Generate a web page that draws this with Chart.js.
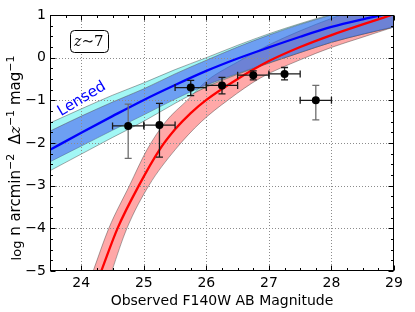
<!DOCTYPE html>
<html><head><meta charset="utf-8">
<script src="https://cdn.jsdelivr.net/npm/chart.js@4.4.0/dist/chart.umd.min.js"></script>
<style>html,body{margin:0;padding:0;background:#fff;}#wrap{width:415px;height:312px;}</style>
</head><body><div id="wrap"><canvas id="c" width="415" height="312"></canvas></div>
<script>
// ---- data ----
const magGrid        = [23.5, 24, 24.5, 25, 25.5, 26, 26.5, 27, 27.5, 28, 28.5, 29];
const lensedMid      = [-2.16,-1.76,-1.37,-0.99,-0.64,-0.31,-0.02,0.24,0.49,0.72,0.90,1.06];
const lensedHi       = [-1.72,-1.37,-1.04,-0.73,-0.38,-0.06,0.25,0.53,0.78,1.00,1.20,1.38];
const lensedLo       = [-2.44,-2.07,-1.70,-1.34,-0.97,-0.64,-0.37,-0.12,0.12,0.36,0.55,0.72];
const lensedOuterHi  = [-1.53,-1.20,-0.88,-0.59,-0.28,0.00,0.29,0.56,0.80,1.02,1.21,1.39];
const lensedOuterLo  = [-2.65,-2.26,-1.87,-1.49,-1.07,-0.69,-0.39,-0.13,0.12,0.36,0.55,0.72];

const intrinsicMag   = [24.32,24.58,24.92,25.25,25.5,25.75,26,26.5,27,27.5,28,28.5,29];
const intrinsicMid   = [-5,-4,-3,-2.16,-1.68,-1.30,-0.99,-0.50,-0.08,0.25,0.53,0.78,1.02];
const intrinsicHiMag = [24.19,24.44,24.77,25.05,25.35,25.70,26,26.5,27,27.5,28,28.5,29];
const intrinsicHi    = [-5,-4,-3,-2.16,-1.5,-0.99,-0.55,-0.10,0.30,0.63,0.92,1.17,1.40];
const intrinsicLoMag = [24.19,24.49,24.73,25.08,25.50,25.92,26.35,26.86,27.5,28,28.5,29];
const intrinsicLo    = [-6.4,-5,-4,-3,-2.16,-1.5,-0.99,-0.48,-0.05,0.24,0.48,0.72];

const obsMag    = [24.75,25.25,25.75,26.25,26.75,27.25,27.75];
const obsVal    = [-1.60,-1.58,-0.70,-0.65,-0.41,-0.38,-1.00];
const obsUpper  = [-1.09,-1.07,-0.53,-0.46,-0.31,-0.23,-0.65];
const obsLower  = [-2.36,-2.33,-0.89,-0.85,-0.52,-0.52,-1.46];
const obsMagErr = [0.25,0.25,0.25,0.25,0.25,0.25,0.25];

const xTicks = [24,25,26,27,28,29];
const yTicks = [1,0,-1,-2,-3,-4,-5];

// ---- helpers ----
const pts = (xs, ys) => xs.map((v,i)=>({x:v, y:ys[i]}));
const fmt = v => v < 0 ? '\u2212' + Math.abs(v) : String(v);
const edge = 'rgba(60,60,60,0.55)';

function drawGrid(chart){
  const {ctx, chartArea:a, scales:{x,y}} = chart;
  ctx.save(); ctx.strokeStyle='#8c8c8c'; ctx.lineWidth=1; ctx.setLineDash([1,2]);
  xTicks.forEach(v=>{ if(v<=x.min||v>=x.max) return; const p=Math.round(x.getPixelForValue(v))+0.5;
    ctx.beginPath(); ctx.moveTo(p,a.top); ctx.lineTo(p,a.bottom); ctx.stroke(); });
  yTicks.forEach(v=>{ if(v<=y.min||v>=y.max) return; const p=Math.round(y.getPixelForValue(v))+0.5;
    ctx.beginPath(); ctx.moveTo(a.left,p); ctx.lineTo(a.right,p); ctx.stroke(); });
  ctx.restore();
}
const grayBars = [0,6];
function drawErrors(chart){
  const {ctx, scales:{x,y}} = chart;
  ctx.save(); ctx.lineWidth=1.3; const cap=3.5;
  obsMag.forEach((m,i)=>{
    const cx=x.getPixelForValue(m), cy=y.getPixelForValue(obsVal[i]);
    const x0=x.getPixelForValue(m-obsMagErr[i]), x1=x.getPixelForValue(m+obsMagErr[i]);
    const yt=y.getPixelForValue(obsUpper[i]), yb=y.getPixelForValue(obsLower[i]);
    ctx.strokeStyle = grayBars.includes(i) ? '#6e6e6e' : '#1a1a1a';
    ctx.beginPath(); ctx.moveTo(cx,yt); ctx.lineTo(cx,yb);
    ctx.moveTo(cx-cap,yt); ctx.lineTo(cx+cap,yt); ctx.moveTo(cx-cap,yb); ctx.lineTo(cx+cap,yb); ctx.stroke();
    ctx.strokeStyle='#1a1a1a';
    ctx.beginPath(); ctx.moveTo(x0,cy); ctx.lineTo(x1,cy);
    ctx.moveTo(x0,cy-cap); ctx.lineTo(x0,cy+cap); ctx.moveTo(x1,cy-cap); ctx.lineTo(x1,cy+cap); ctx.stroke();
  });
  ctx.restore();
}
function drawFrame(chart){
  const {ctx, chartArea:a, scales:{x,y}} = chart;
  ctx.save(); ctx.strokeStyle='#000'; ctx.lineWidth=1;
  const L=Math.round(a.left)+0.5, R=Math.round(a.right)-0.5, T=Math.round(a.top)+0.5, B=Math.round(a.bottom)-0.5;
  ctx.strokeRect(L,T,R-L,B-T);
  ctx.beginPath();
  for(let v=x.min; v<=x.max+1e-9; v+=0.25){
    const len = Math.abs(v-Math.round(v))<1e-6 ? 5 : 2.5; const p=Math.round(x.getPixelForValue(v))+0.5;
    ctx.moveTo(p,B); ctx.lineTo(p,B-len); ctx.moveTo(p,T); ctx.lineTo(p,T+len);
  }
  for(let v=y.min; v<=y.max+1e-9; v+=0.25){
    const len = Math.abs(v-Math.round(v))<1e-6 ? 5 : 2.5; const p=Math.round(y.getPixelForValue(v))+0.5;
    ctx.moveTo(L,p); ctx.lineTo(L+len,p); ctx.moveTo(R,p); ctx.lineTo(R-len,p);
  }
  ctx.stroke(); ctx.restore();
}
function drawTexts(chart){
  const {ctx, chartArea:a, scales:{x,y}} = chart;
  ctx.save();
  // x title
  ctx.fillStyle='#000'; ctx.font='14px "DejaVu Sans"'; ctx.textAlign='center'; ctx.textBaseline='alphabetic';
  ctx.fillText('Observed F140W AB Magnitude', (a.left+a.right)/2, 305);
  // Lensed label
  ctx.save(); ctx.translate(x.getPixelForValue(24.01), y.getPixelForValue(-0.97)); ctx.rotate(-31*Math.PI/180);
  ctx.fillStyle='#0000ff'; ctx.font='15px "DejaVu Sans"'; ctx.textAlign='center'; ctx.textBaseline='middle';
  ctx.fillText('Lensed',0,0); ctx.restore();
  // z~7 box
  const bx=x.getPixelForValue(24.12), by=y.getPixelForValue(0.38);
  const w=38, h=22, r=4;
  ctx.beginPath(); ctx.roundRect(Math.round(bx-w/2)+0.5, Math.round(by-h/2)+0.5, w, h, r);
  ctx.fillStyle='#fff'; ctx.fill(); ctx.strokeStyle='#000'; ctx.lineWidth=1; ctx.stroke();
  ctx.fillStyle='#000'; ctx.textBaseline='alphabetic'; ctx.textAlign='left';
  ctx.font='italic 14px "DejaVu Serif"'; const wz=ctx.measureText('z').width;
  ctx.font='15px "DejaVu Serif"'; const wr=ctx.measureText('\u223c7').width;
  let sx=bx-(wz+wr)/2, base=by+5;
  ctx.font='italic 14px "DejaVu Serif"'; ctx.fillText('z',sx,base);
  ctx.font='15px "DejaVu Serif"'; ctx.fillText('\u223c7',sx+wz,base);
  // y title
  const parts=[
    {t:'log', f:'13px "DejaVu Sans"', dy:1},
    {t:' n arcmin', f:'15px "DejaVu Sans"', dy:0},
    {t:'\u22122', f:'11px "DejaVu Sans"', dy:-6},
    {t:'  \u0394', f:'15px "DejaVu Sans"', dy:0},
    {t:'z', f:'italic 15px "DejaVu Serif"', dy:0},
    {t:'\u22121', f:'11px "DejaVu Sans"', dy:-6},
    {t:' mag', f:'15px "DejaVu Sans"', dy:0},
    {t:'\u22121', f:'11px "DejaVu Sans"', dy:-6}
  ];
  let tot=0; parts.forEach(p=>{ctx.font=p.f; p.w=ctx.measureText(p.t).width; tot+=p.w;});
  ctx.translate(20, 158); ctx.rotate(-Math.PI/2);
  let cx=-tot/2;
  parts.forEach(p=>{ctx.font=p.f; ctx.fillText(p.t,cx,p.dy); cx+=p.w;});
  ctx.restore();
}
const decor = {
  id:'decor',
  beforeDatasetDraw(chart,args){ if(args.index===6) drawGrid(chart); if(args.index===8) drawErrors(chart); },
  afterDraw(chart){ drawFrame(chart); drawTexts(chart); }
};

Chart.defaults.font.family = '"DejaVu Sans"';
const bandLine = {showLine:true, pointRadius:0, borderColor:edge, borderWidth:0.8, cubicInterpolationMode:'monotone'};
new Chart(document.getElementById('c'), {
  type:'scatter',
  data:{ datasets:[
    Object.assign({data:pts(intrinsicLoMag,intrinsicLo), order:10, fill:false}, bandLine),
    Object.assign({data:pts(intrinsicHiMag,intrinsicHi), order:10, fill:'-1', backgroundColor:'rgba(255,0,0,0.34)'}, bandLine),
    Object.assign({data:pts(magGrid,lensedOuterHi), order:8, fill:'+1', backgroundColor:'rgba(70,240,235,0.5)'}, bandLine),
    Object.assign({data:pts(magGrid,lensedHi), order:6, fill:'+1', backgroundColor:'rgba(34,110,236,0.66)'}, bandLine),
    Object.assign({data:pts(magGrid,lensedLo), order:6, fill:false}, bandLine),
    Object.assign({data:pts(magGrid,lensedOuterLo), order:8, fill:'-1', backgroundColor:'rgba(70,240,235,0.5)'}, bandLine),
    {data:pts(magGrid,lensedMid), order:3, showLine:true, pointRadius:0, borderColor:'#0000ff', borderWidth:2.3, cubicInterpolationMode:'monotone', fill:false},
    {data:pts(intrinsicMag,intrinsicMid), order:2, showLine:true, pointRadius:0, borderColor:'#ff0000', borderWidth:2.3, cubicInterpolationMode:'monotone', fill:false},
    {data:pts(obsMag,obsVal), order:1, showLine:false, pointRadius:4, backgroundColor:'#000', borderColor:'#000', borderWidth:0}
  ]},
  options:{
    responsive:false, animation:false, devicePixelRatio:1,
    layout:{padding:{top:15,right:21,left:0,bottom:0}},
    plugins:{legend:{display:false}, tooltip:{enabled:false}},
    scales:{
      x:{type:'linear', min:23.5, max:29,
        afterBuildTicks:s=>{s.ticks=xTicks.map(v=>({value:v}));},
        ticks:{padding:4, color:'#000', font:{size:14}, callback:v=>fmt(v), maxRotation:0, autoSkip:false},
        grid:{display:false, drawTicks:false}, border:{display:false},
        afterFit:s=>{s.height=41;}},
      y:{type:'linear', min:-5, max:1,
        afterBuildTicks:s=>{s.ticks=yTicks.map(v=>({value:v}));},
        ticks:{padding:4, color:'#000', font:{size:14}, callback:v=>fmt(v), autoSkip:false},
        grid:{display:false, drawTicks:false}, border:{display:false},
        afterFit:s=>{s.width=50;}}
    }
  },
  plugins:[decor]
});
</script></body></html>
